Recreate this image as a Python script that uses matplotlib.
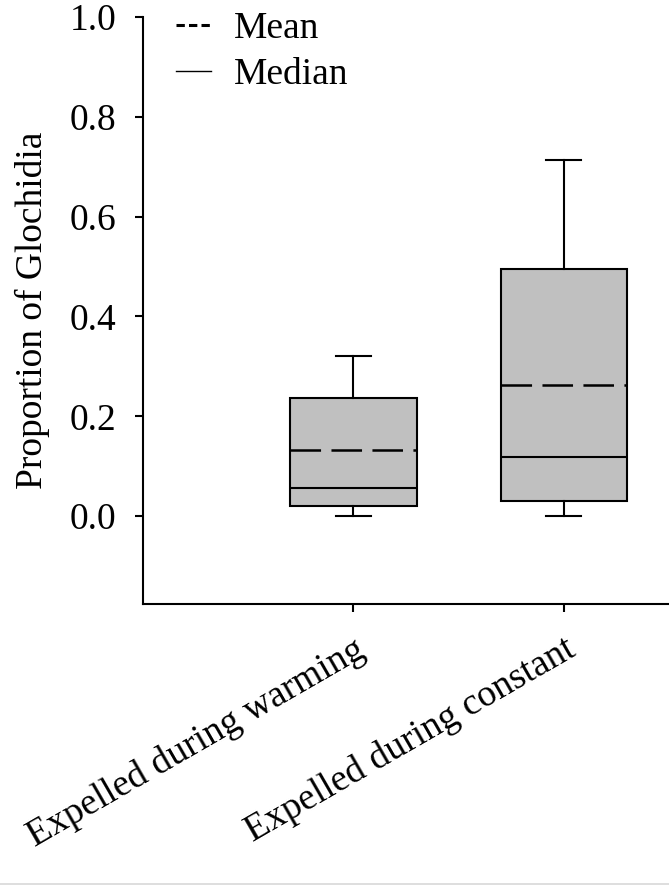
import matplotlib
matplotlib.use("Agg")
import matplotlib.pyplot as plt
from matplotlib.lines import Line2D

plt.rcParams['font.family'] = ['Liberation Serif', 'DejaVu Serif']
plt.rcParams['lines.scale_dashes'] = False

# data
groups = ['Expelled during warming', 'Expelled during constant']
whislo = [0.0, 0.0]
q1 = [0.020, 0.030]
med = [0.056, 0.119]
mean = [0.132, 0.262]
q3 = [0.236, 0.495]
whishi = [0.320, 0.713]

fig = plt.figure(figsize=(6.69, 8.88), dpi=100)
ax = fig.add_axes([0.2138, 0.3198, 0.7862, 0.6611])

stats = []
for i in range(len(groups)):
    stats.append(dict(whislo=whislo[i], q1=q1[i], med=med[i], mean=mean[i],
                      q3=q3[i], whishi=whishi[i], fliers=[], label=groups[i]))

pos = [1, 2]
ax.bxp(stats, positions=pos, widths=0.6, patch_artist=True, showmeans=False,
       boxprops=dict(facecolor='#c0c0c0', edgecolor='black', linewidth=1.5),
       medianprops=dict(color='black', linewidth=1.5),
       whiskerprops=dict(color='black', linewidth=1.5),
       capprops=dict(color='black', linewidth=1.5),
       capwidths=0.165)

# dashed mean lines across each box
for p, m in zip(pos, mean):
    ax.plot([p - 0.3, p + 0.3], [m, m], color='black', linewidth=1.8,
            dashes=(22, 7.5))

ax.set_xlim(0, 2.5)
ax.set_ylim(-0.176, 1.0)
ax.set_yticks([0.0, 0.2, 0.4, 0.6, 0.8, 1.0])
ax.set_yticklabels(['0.0', '0.2', '0.4', '0.6', '0.8', '1.0'])
ax.set_xticks(pos)
ax.set_xticklabels(groups, rotation=30, ha='right', rotation_mode='anchor')
ax.tick_params(axis='both', labelsize=27, width=1.5, length=6, direction='out')
ax.tick_params(axis='x', pad=14)
ax.tick_params(axis='y', pad=13)
ax.set_ylabel('Proportion of Glochidia', fontsize=27, labelpad=14)

for s in ['top', 'right']:
    ax.spines[s].set_visible(False)
for s in ['left', 'bottom']:
    ax.spines[s].set_linewidth(1.5)

handles = [Line2D([], [], color='black', linewidth=2.2, dashes=(6, 3)),
           Line2D([], [], color='black', linewidth=1.0)]
ax.legend(handles, ['Mean', 'Median'], loc='upper left', frameon=False,
          fontsize=27, handlelength=0.92, handletextpad=0.6, labelspacing=0.32,
          bbox_to_anchor=(0.035, 1.035), borderaxespad=0)

# faint border line at the bottom of the screenshot
fig.add_artist(Line2D([0, 1], [0.005, 0.005], color='#d8d8d8', linewidth=1.2))

fig.savefig('out.png', dpi=100)
